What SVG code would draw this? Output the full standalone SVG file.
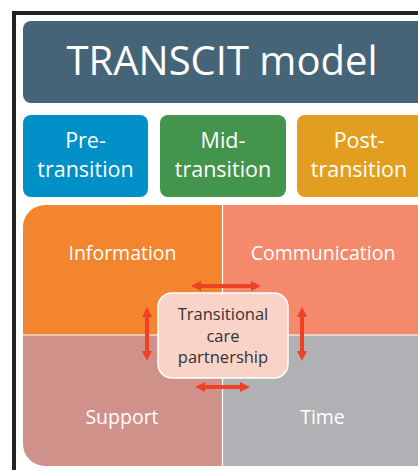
<svg xmlns="http://www.w3.org/2000/svg" width="418" height="470" viewBox="0 0 418 470">
<style>
text{font-family:"Open Sans","Noto Sans","DejaVu Sans",sans-serif;text-anchor:middle}
.w{fill:#ffffff}
.ph{font-size:21.5px}
.q{font-size:19.5px}
.c{font-size:16.5px;fill:#333333}
.arr{stroke:#EE4125;stroke-width:4;fill:none}
</style>
<defs>
<marker id="ah" viewBox="0 0 10 10" refX="5" refY="5" markerWidth="2.5" markerHeight="2.8" orient="auto-start-reverse" markerUnits="strokeWidth">
<path d="M0,0 L10,5 L0,10 z" fill="#EE4125"/>
</marker>
<clipPath id="qc"><rect x="23" y="205" width="420" height="261" rx="22"/></clipPath>
</defs>
<rect x="0" y="0" width="418" height="470" fill="#ffffff"/>
<rect x="14" y="13" width="420" height="470" fill="#ffffff" stroke="#222222" stroke-width="4"/>
<g id="title">
<rect x="23" y="21" width="410" height="82" rx="8" fill="#466478"/>
<text x="222" y="75" class="w" font-size="40">TRANSCIT model</text>
</g>
<g id="pre">
<rect x="23" y="115" width="125" height="82" rx="8" fill="#0090C8"/>
<text class="w ph"><tspan x="85.5" y="148">Pre-</tspan><tspan x="85.5" y="176.5">transition</tspan></text>
</g>
<g id="mid">
<rect x="160" y="115" width="126" height="82" rx="8" fill="#43944D"/>
<text class="w ph"><tspan x="223" y="148">Mid-</tspan><tspan x="223" y="176.5">transition</tspan></text>
</g>
<g id="post">
<rect x="297" y="115" width="136" height="82" rx="8" fill="#E29E1E"/>
<text class="w ph"><tspan x="359" y="148">Post-</tspan><tspan x="359" y="176.5">transition</tspan></text>
</g>
<g clip-path="url(#qc)">
<g id="information">
<rect x="23" y="205" width="200" height="130" fill="#F4852F"/>
<text x="122.5" y="260" class="w q">Information</text>
</g>
<g id="communication">
<rect x="223" y="205" width="220" height="130" fill="#F5896B"/>
<text x="323" y="260" class="w q">Communication</text>
</g>
<g id="support">
<rect x="23" y="335" width="200" height="131" fill="#D0918A"/>
<text x="122" y="424" class="w q">Support</text>
</g>
<g id="time">
<rect x="223" y="335" width="220" height="131" fill="#B0B1B5"/>
<text x="322.5" y="424" class="w q">Time</text>
</g>
<path d="M222.5,205 V466 M23,335 H443" stroke="#ffffff" stroke-width="1.2"/>
</g>
<g id="connectors">
<path class="arr" d="M196,286 H256" marker-start="url(#ah)" marker-end="url(#ah)"/>
<path class="arr" d="M200,387 H245" marker-start="url(#ah)" marker-end="url(#ah)"/>
<path class="arr" d="M147,312 V356" marker-start="url(#ah)" marker-end="url(#ah)"/>
<path class="arr" d="M302,312 V356" marker-start="url(#ah)" marker-end="url(#ah)"/>
</g>
<g id="partnership">
<rect x="158" y="293" width="130" height="85" rx="14" fill="#FAD3C8" stroke="#ffffff" stroke-width="1.5"/>
<text class="c"><tspan x="223" y="320">Transitional</tspan><tspan x="223" y="342">care</tspan><tspan x="223" y="363">partnership</tspan></text>
</g>
</svg>
